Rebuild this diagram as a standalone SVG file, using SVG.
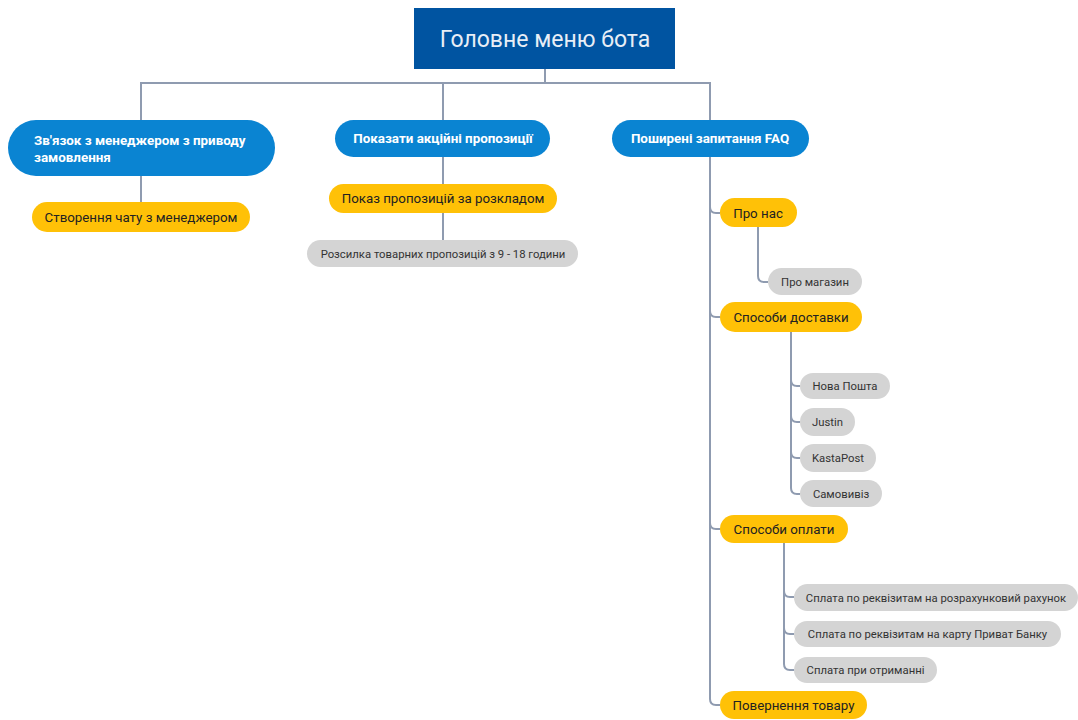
<svg xmlns="http://www.w3.org/2000/svg" width="1078" height="720" viewBox="0 0 1078 720">
<style>
.c{fill:none;stroke:#8f9bb0;stroke-width:2}
.blue{fill:#0a84d2}
.or{fill:#ffc107}
.gr{fill:#d4d4d4}
.tb{font-family:Roboto,"Liberation Sans",sans-serif;font-size:13.4px;font-weight:bold;fill:#ffffff}
.to{font-family:Roboto,"Liberation Sans",sans-serif;font-size:13.3px;fill:#222222}
.tg{font-family:Roboto,"Liberation Sans",sans-serif;font-size:11.3px;fill:#333333}
</style>
<rect width="1078" height="720" fill="#ffffff"/>
<g id="connectors">
<path class="c" d="M545 69 V83 M141 120 V83 H710 V120 M443 83 V120"/>
<path class="c" d="M141 176 V202"/>
<path class="c" d="M443 157 V184 M443 213 V240"/>
<path class="c" d="M710 157 V699 Q710 705 716 705 H720"/>
<path class="c" d="M710 207 Q710 213 716 213 H720"/>
<path class="c" d="M710 311 Q710 317 716 317 H720"/>
<path class="c" d="M710 523 Q710 529 716 529 H720"/>
<path class="c" d="M758 227 V276 Q758 282 764 282 H768"/>
<path class="c" d="M791 332 V488 Q791 494 797 494 H800"/>
<path class="c" d="M791 380 Q791 386 797 386 H800"/>
<path class="c" d="M791 416 Q791 422 797 422 H800"/>
<path class="c" d="M791 452 Q791 458 797 458 H800"/>
<path class="c" d="M784 543 V664 Q784 670 790 670 H794"/>
<path class="c" d="M784 591 Q784 597 790 597 H794"/>
<path class="c" d="M784 628 Q784 634 790 634 H794"/>
</g>
<g id="root">
<rect x="414" y="8" width="261" height="61" fill="#0054a1"/>
<text x="545" y="47" text-anchor="middle" style="font-family:Roboto,'Liberation Sans',sans-serif;font-size:23px;fill:#e8eef6">Головне меню бота</text>
</g>
<g id="n1">
<rect class="blue" x="8" y="120" width="267" height="56" rx="28"/>
<text class="tb" x="34" y="145">Зв'язок з менеджером з приводу</text>
<text class="tb" x="34" y="162">замовлення</text>
</g>
<g id="n1a">
<rect class="or" x="32" y="202" width="218" height="30" rx="15"/>
<text class="to" x="141" y="222" text-anchor="middle">Створення чату з менеджером</text>
</g>
<g id="n2">
<rect class="blue" x="335" y="120" width="215" height="37" rx="18.5"/>
<text class="tb" x="443" y="143" text-anchor="middle">Показати акційні пропозиції</text>
</g>
<g id="n2a">
<rect class="or" x="329" y="184" width="228" height="29" rx="14.5"/>
<text class="to" x="443" y="203" text-anchor="middle">Показ пропозицій за розкладом</text>
</g>
<g id="n2b">
<rect class="gr" x="307" y="240" width="271" height="27" rx="13.5"/>
<text class="tg" x="443" y="258" text-anchor="middle">Розсилка товарних пропозицій з 9 - 18 години</text>
</g>
<g id="n3">
<rect class="blue" x="612" y="120" width="197" height="37" rx="18.5"/>
<text class="tb" x="710" y="143" text-anchor="middle">Поширені запитання FAQ</text>
</g>
<g id="n3a">
<rect class="or" x="720" y="198" width="77" height="29" rx="14.5"/>
<text class="to" x="758" y="218" text-anchor="middle">Про нас</text>
</g>
<g id="n3a1">
<rect class="gr" x="768" y="268" width="94" height="27" rx="13.5"/>
<text class="tg" x="815" y="286" text-anchor="middle">Про магазин</text>
</g>
<g id="n3b">
<rect class="or" x="720" y="302" width="142" height="30" rx="15"/>
<text class="to" x="791" y="322" text-anchor="middle">Способи доставки</text>
</g>
<g id="n3b1">
<rect class="gr" x="800" y="373" width="90" height="26" rx="13"/>
<text class="tg" x="845" y="390" text-anchor="middle">Нова Пошта</text>
</g>
<g id="n3b2">
<rect class="gr" x="800" y="408" width="55" height="28" rx="14"/>
<text class="tg" x="827.5" y="426" text-anchor="middle">Justin</text>
</g>
<g id="n3b3">
<rect class="gr" x="800" y="444" width="76" height="28" rx="14"/>
<text class="tg" x="838" y="462" text-anchor="middle">KastaPost</text>
</g>
<g id="n3b4">
<rect class="gr" x="800" y="480" width="82" height="27" rx="13.5"/>
<text class="tg" x="841" y="498" text-anchor="middle">Самовивіз</text>
</g>
<g id="n3c">
<rect class="or" x="720" y="515" width="128" height="28" rx="14"/>
<text class="to" x="784" y="534" text-anchor="middle">Способи оплати</text>
</g>
<g id="n3c1">
<rect class="gr" x="794" y="584" width="284" height="27" rx="13.5"/>
<text class="tg" x="936" y="602" text-anchor="middle">Сплата по реквізитам на розрахунковий рахунок</text>
</g>
<g id="n3c2">
<rect class="gr" x="794" y="621" width="267" height="26" rx="13"/>
<text class="tg" x="927.5" y="638" text-anchor="middle">Сплата по реквізитам на карту Приват Банку</text>
</g>
<g id="n3c3">
<rect class="gr" x="794" y="657" width="143" height="26" rx="13"/>
<text class="tg" x="865.5" y="674" text-anchor="middle">Сплата при отриманні</text>
</g>
<g id="n3d">
<rect class="or" x="720" y="691" width="147" height="28" rx="14"/>
<text class="to" x="793.5" y="710" text-anchor="middle">Повернення товару</text>
</g>
</svg>
